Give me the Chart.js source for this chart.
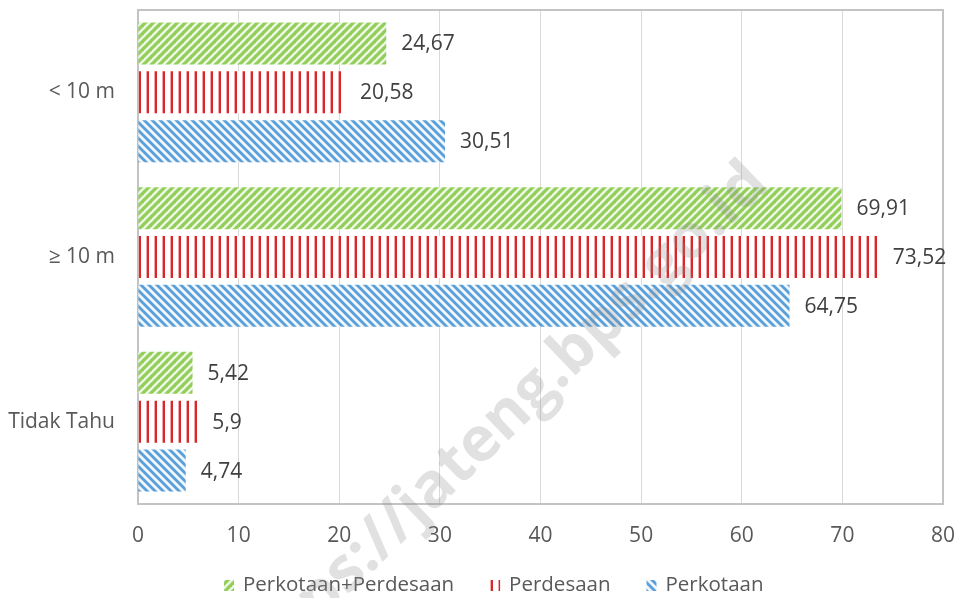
<!DOCTYPE html>
<html>
<head>
<meta charset="utf-8">
<script src="https://cdn.jsdelivr.net/npm/chart.js@4.4.1/dist/chart.umd.min.js"></script>
<style>
  html, body { margin: 0; padding: 0; background: #ffffff; }
  #wrap { width: 959px; height: 598px; }
</style>
</head>
<body>
<div id="wrap"><canvas id="chart" width="959" height="598"></canvas></div>
<script>
// Categories (kedalaman sumur) and the three series, in percent
const categories = ['< 10 m', '≥ 10 m', 'Tidak Tahu'];
const seriesNames = ['Perkotaan+Perdesaan', 'Perdesaan', 'Perkotaan'];
const totalValues = [24.67, 69.91, 5.42];
const ruralValues = [20.58, 73.52, 5.9];
const urbanValues = [30.51, 64.75, 4.74];
const xTickValues = [0, 10, 20, 30, 40, 50, 60, 70, 80];
const watermarkText = 'https://jateng.bps.go.id';

const FONT = '"Open Sans", "DejaVu Sans", sans-serif';
const TEXT_COLOR = '#595959';

// ---- hatch patterns -------------------------------------------------------
function makeTile(draw) {
  const t = document.createElement('canvas');
  t.width = 8; t.height = 8;
  const c = t.getContext('2d');
  draw(c);
  return t;
}
const ctxMain = document.getElementById('chart').getContext('2d');

// wide upward diagonal, green
const greenTile = makeTile(c => {
  c.fillStyle = '#eef7e5';
  c.fillRect(0, 0, 8, 8);
  c.strokeStyle = '#92cf58';
  c.lineWidth = 3.2;
  for (const k of [-8, 0, 8]) {
    c.beginPath(); c.moveTo(k - 1, 9); c.lineTo(k + 9, -1); c.stroke();
  }
});
// vertical lines, red
const redTile = makeTile(c => {
  c.fillStyle = '#ffffff';
  c.fillRect(0, 0, 8, 8);
  c.fillStyle = '#f0a8a8';
  c.fillRect(2, 0, 1, 8);
  c.fillStyle = '#d9262b';
  c.fillRect(3, 0, 2, 8);
});
// wide downward diagonal, blue
const blueTile = makeTile(c => {
  c.fillStyle = '#f1f7fc';
  c.fillRect(0, 0, 8, 8);
  c.strokeStyle = '#5a9fd8';
  c.lineWidth = 2.8;
  for (const k of [-8, 0, 8]) {
    c.beginPath(); c.moveTo(k - 1, -1); c.lineTo(k + 9, 9); c.stroke();
  }
});
const greenPattern = ctxMain.createPattern(greenTile, 'repeat');
const redPattern = ctxMain.createPattern(redTile, 'repeat');
const bluePattern = ctxMain.createPattern(blueTile, 'repeat');
const patterns = [greenPattern, redPattern, bluePattern];

const fmt = v => String(v).replace('.', ',');

function noScalePadding(scale) {
  scale.paddingTop = 0;
  scale.paddingBottom = 0;
  scale.paddingLeft = 0;
  scale.paddingRight = 0;
}

// ---- plugins ---------------------------------------------------------------
const plotFrame = {
  id: 'plotFrame',
  beforeDatasetsDraw(chart) {
    const { ctx, chartArea: a } = chart;
    ctx.save();
    ctx.strokeStyle = '#c3c3c3';
    ctx.lineWidth = 2;
    ctx.strokeRect(a.left, a.top, a.right - a.left, a.bottom - a.top);
    ctx.restore();
  }
};

const valueLabels = {
  id: 'valueLabels',
  afterDatasetsDraw(chart) {
    const { ctx } = chart;
    ctx.save();
    ctx.font = '21px ' + FONT;
    ctx.fillStyle = '#404040';
    ctx.textAlign = 'left';
    ctx.textBaseline = 'middle';
    chart.data.datasets.forEach((ds, i) => {
      chart.getDatasetMeta(i).data.forEach((bar, j) => {
        ctx.fillText(fmt(ds.data[j]), bar.x + 15, bar.y + 1);
      });
    });
    ctx.restore();
  }
};

// legend row: pattern swatch + series name, evenly spaced
const legendRow = {
  id: 'legendRow',
  afterDraw(chart) {
    const { ctx } = chart;
    const y = 585;
    let x = 224;
    ctx.save();
    ctx.font = '20.5px ' + FONT;
    ctx.textBaseline = 'middle';
    chart.data.datasets.forEach((ds, i) => {
      ctx.fillStyle = patterns[i];
      ctx.fillRect(x, y - 5, 10, 11);
      ctx.fillStyle = TEXT_COLOR;
      ctx.fillText(ds.label, x + 19, y);
      x += 19 + ctx.measureText(ds.label).width + 36;
    });
    ctx.restore();
  }
};

const watermark = {
  id: 'watermark',
  afterDraw(chart) {
    const { ctx } = chart;
    ctx.save();
    ctx.font = 'bold 62px ' + FONT;
    const lead = ctx.measureText('http').width;
    ctx.translate(347, 596);
    ctx.rotate(-44 * Math.PI / 180);
    ctx.fillStyle = 'rgba(140,140,140,0.26)';
    ctx.textBaseline = 'alphabetic';
    ctx.fillText(watermarkText, -lead, 0);
    ctx.restore();
  }
};

// ---- chart -------------------------------------------------------------
new Chart(ctxMain, {
  type: 'bar',
  data: {
    labels: categories,
    datasets: [
      { label: seriesNames[0], data: totalValues, backgroundColor: greenPattern },
      { label: seriesNames[1], data: ruralValues, backgroundColor: redPattern },
      { label: seriesNames[2], data: urbanValues, backgroundColor: bluePattern }
    ]
  },
  options: {
    indexAxis: 'y',
    responsive: false,
    animation: false,
    devicePixelRatio: 1,
    barPercentage: 0.86,
    categoryPercentage: 0.89,
    layout: { padding: { top: 10, right: 16, left: 0, bottom: 0 } },
    plugins: {
      legend: { display: false },
      tooltip: { enabled: false }
    },
    scales: {
      x: {
        min: 0,
        max: 80,
        afterBuildTicks(scale) { scale.ticks = xTickValues.map(v => ({ value: v })); },
        afterFit(scale) { scale.height = 94; noScalePadding(scale); },
        ticks: { color: TEXT_COLOR, font: { family: FONT, size: 21 }, padding: 19 },
        grid: { color: '#d9d9d9', lineWidth: 1, drawTicks: false },
        border: { display: false }
      },
      y: {
        afterFit(scale) { scale.width = 138; noScalePadding(scale); },
        ticks: { color: TEXT_COLOR, font: { family: FONT, size: 21 }, padding: 23 },
        grid: { display: false, drawTicks: false },
        border: { display: false }
      }
    }
  },
  plugins: [plotFrame, valueLabels, legendRow, watermark]
});
</script>
</body>
</html>
